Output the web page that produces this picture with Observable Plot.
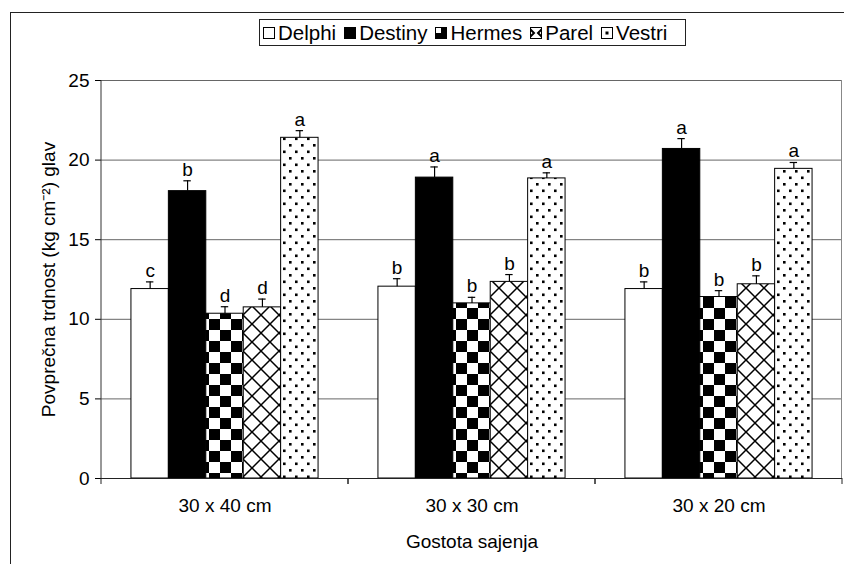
<!DOCTYPE html>
<html>
<head>
<meta charset="utf-8">
<script src="https://cdn.jsdelivr.net/npm/d3@7"></script>
<script src="https://cdn.jsdelivr.net/npm/@observablehq/plot@0.6"></script>
<style>
  html, body { margin: 0; padding: 0; background: #fff; }
  body { width: 844px; height: 564px; overflow: hidden; position: relative;
         font-family: "Liberation Sans", Arial, sans-serif; color: #000; }
  #outer { position: absolute; left: 10px; top: 12px; width: 900px; height: 700px;
           border: 1.5px solid #222; box-sizing: border-box; }
  #chart { position: absolute; left: 0; top: 0; }
  #legend { position: absolute; left: 259px; top: 19px; height: 27px; width: 427px;
            border: 1px solid #222; box-sizing: border-box; background: #fff;
            display: flex; align-items: center; padding-left: 3px; font-size: 20.5px; white-space: nowrap; }
  #legend .item { display: flex; align-items: center; margin-right: 8px; }
  #legend svg { margin-right: 3px; }
</style>
</head>
<body>
<svg width="0" height="0" style="position:absolute">
  <defs>
    <pattern id="hermes" width="22" height="22" patternUnits="userSpaceOnUse">
      <rect width="22" height="22" fill="#fff"/>
      <rect x="0" y="0" width="11" height="11" fill="#000"/>
      <rect x="11" y="11" width="11" height="11" fill="#000"/>
    </pattern>
    <pattern id="parel" width="18" height="18" patternUnits="userSpaceOnUse">
      <rect width="18" height="18" fill="#fff"/>
      <path d="M0,0L18,18M18,0L0,18" stroke="#000" stroke-width="1.5"/>
    </pattern>
    <pattern id="vestri" width="12" height="13" patternUnits="userSpaceOnUse">
      <rect width="12" height="13" fill="#fff"/>
      <rect x="1" y="1" width="2.6" height="2.6" fill="#000"/>
      <rect x="7" y="7.5" width="2.6" height="2.6" fill="#000"/>
    </pattern>
    <pattern id="hermesKey" width="12" height="12" patternUnits="userSpaceOnUse">
      <rect width="12" height="12" fill="#000"/>
      <rect x="0" y="0" width="6" height="6" fill="#fff"/>
    </pattern>
    <pattern id="parelKey" width="12" height="12" patternUnits="userSpaceOnUse">
      <rect width="12" height="12" fill="#fff"/>
      <path d="M0,2L4,6L0,10M12,2L8,6L12,10" stroke="#000" stroke-width="2" fill="none"/>
    </pattern>
    <pattern id="vestriKey" width="12" height="12" patternUnits="userSpaceOnUse">
      <rect width="12" height="12" fill="#fff"/>
      <rect x="4.5" y="4.5" width="3" height="3" fill="#000"/>
    </pattern>
  </defs>
</svg>
<div id="outer"></div>
<div id="chart"></div>
<div id="legend"></div>
<script>
// ---- data ----
const groups = ["30 x 40 cm", "30 x 30 cm", "30 x 20 cm"];
const varieties = ["Delphi", "Destiny", "Hermes", "Parel", "Vestri"];
const delphi  = [11.9, 12.05, 11.9];
const destiny = [18.05, 18.9, 20.7];
const hermes  = [10.35, 11.0, 11.4];
const parel   = [10.75, 12.35, 12.2];
const vestri  = [21.4, 18.85, 19.45];
const errDelphi  = [0.45, 0.5, 0.45];
const errDestiny = [0.65, 0.67, 0.65];
const errHermes  = [0.44, 0.38, 0.4];
const errParel   = [0.52, 0.46, 0.53];
const errVestri  = [0.45, 0.35, 0.4];
const letters40 = ["c", "b", "d", "d", "a"];
const letters30 = ["b", "a", "b", "b", "a"];
const letters20 = ["b", "a", "b", "b", "a"];
const yTicks = [0, 5, 10, 15, 20, 25];
const yLabel = "Povprečna trdnost (kg cm⁻²) glav";
const xLabel = "Gostota sajenja";

const means = [delphi, destiny, hermes, parel, vestri];
const errs = [errDelphi, errDestiny, errHermes, errParel, errVestri];
const letters = [letters40, letters30, letters20];
const fills = ["#fff", "#000", "url(#hermes)", "url(#parel)", "url(#vestri)"];
const keyFills = ["#fff", "#000", "url(#hermesKey)", "url(#parelKey)", "url(#vestriKey)"];

const rows = groups.flatMap((g, i) => varieties.map((v, j) => ({
  group: g, variety: v, value: means[j][i], top: means[j][i] + errs[j][i], letter: letters[i][j]
})));

// decorations drawn per facet: boundary ticks, y-axis line, plot-area right border
let callNo = 0;
function edges(index, scales) {
  const n = groups.length;
  const k = callNo++ % n;
  const [xa, xb] = scales.x.range();
  const y0 = scales.y(0), yt = scales.y(d3.max(yTicks));
  const g = d3.create("svg:g").attr("fill", "none");
  for (const xv of [xa, xb]) {
    g.append("line").attr("x1", xv).attr("x2", xv).attr("y1", y0).attr("y2", y0 + 6).attr("stroke", "#222");
  }
  if (k === 0) g.append("line").attr("x1", xa).attr("x2", xa).attr("y1", yt).attr("y2", y0).attr("stroke", "#333");
  if (k === n - 1) g.append("line").attr("x1", xb - 0.5).attr("x2", xb - 0.5).attr("y1", yt).attr("y2", y0).attr("stroke", "#888");
  return g.node();
}

callNo = 0;
const chart = Plot.plot({
  width: 844,
  height: 564,
  marginLeft: 101,
  marginRight: 2,
  marginTop: 80,
  marginBottom: 86,
  style: { fontSize: "19px", fontFamily: "'Liberation Sans', Arial, sans-serif", color: "#000", background: "transparent" },
  fx: { domain: groups, padding: 0, axis: "bottom", tickSize: 0, tickPadding: 20, label: xLabel, labelAnchor: "center", labelOffset: 69 },
  x: { domain: varieties, paddingInner: 0, paddingOuter: 0.8, axis: null, round: false },
  y: { domain: [0, 25], ticks: yTicks, tickSize: 6, tickPadding: 6, label: yLabel, labelAnchor: "center", labelOffset: 60, labelArrow: "none" },
  color: { domain: varieties, range: fills },
  marks: [
    Plot.ruleY(yTicks.filter(v => v > 0), { stroke: "#666", strokeWidth: 1 }),
    Plot.barY(rows, { fx: "group", x: "variety", y: "value", fill: "variety", stroke: "#000", strokeWidth: 1 }),
    Plot.ruleX(rows, { fx: "group", x: "variety", y1: "value", y2: "top", stroke: "#000", strokeWidth: 1.2 }),
    Plot.tickY(rows, { fx: "group", x: "variety", y: "top", stroke: "#000", strokeWidth: 1.2, insetLeft: 15, insetRight: 15 }),
    Plot.text(rows, { fx: "group", x: "variety", y: "top", text: "letter", dy: -5, lineAnchor: "bottom", fontSize: 19, fill: "#000" }),
    Plot.ruleY([0], { stroke: "#222", strokeWidth: 1 }),
    edges
  ]
});
document.getElementById("chart").appendChild(chart);

// legend
const legend = d3.select("#legend");
varieties.forEach((v, j) => {
  const item = legend.append("div").attr("class", "item");
  const s = item.append("svg").attr("width", 12).attr("height", 12);
  s.append("rect").attr("x", 0.5).attr("y", 0.5).attr("width", 11).attr("height", 11)
    .attr("fill", keyFills[j]).attr("stroke", "#000");
  item.append("span").text(v);
});
</script>
</body>
</html>
